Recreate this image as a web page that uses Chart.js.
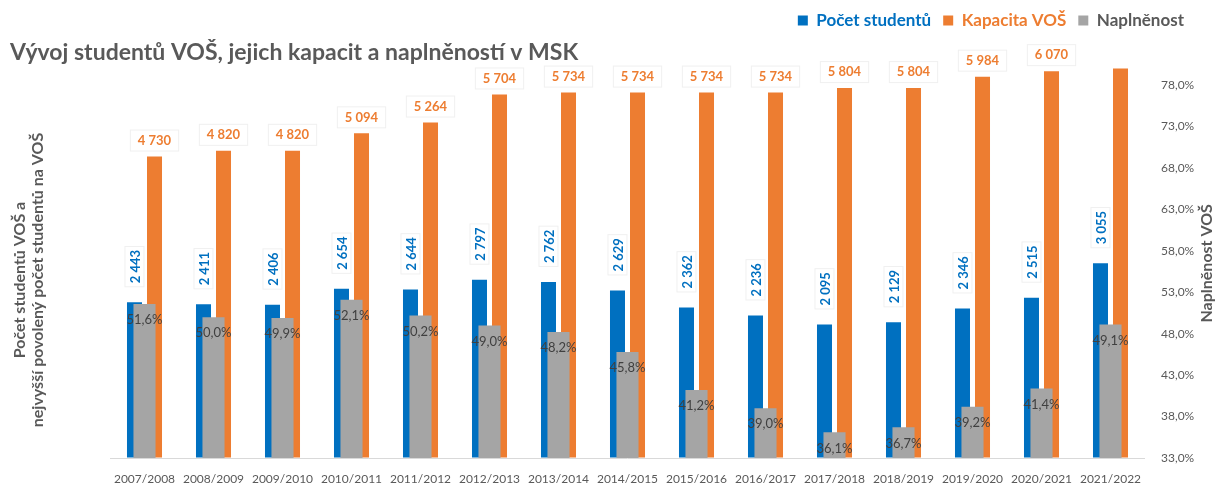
<!DOCTYPE html>
<html>
<head>
<meta charset="utf-8">
<script src="https://cdn.jsdelivr.net/npm/chart.js@4.4.1/dist/chart.umd.min.js"></script>
<style>
  html, body { margin: 0; padding: 0; background: #fff; }
  #wrap { width: 1218px; height: 484px; }
</style>
</head>
<body>
<div id="wrap"><canvas id="chart"></canvas></div>
<script>
// ---- data ----
const years = ['2007/2008', '2008/2009', '2009/2010', '2010/2011', '2011/2012', '2012/2013', '2013/2014',
  '2014/2015', '2015/2016', '2016/2017', '2017/2018', '2018/2019', '2019/2020', '2020/2021', '2021/2022'];
const students = [2443, 2411, 2406, 2654, 2644, 2797, 2762, 2629, 2362, 2236, 2095, 2129, 2346, 2515, 3055];
const capacity = [4730, 4820, 4820, 5094, 5264, 5704, 5734, 5734, 5734, 5734, 5804, 5804, 5984, 6070, 6222];
const fillRate = [51.6, 50.0, 49.9, 52.1, 50.2, 49.0, 48.2, 45.8, 41.2, 39.0, 36.1, 36.7, 39.2, 41.4, 49.1];
const rightTicks = [33, 38, 43, 48, 53, 58, 63, 68, 73, 78];
const leftTitle = ['Počet studentů VOŠ a', 'nejvyšší povolený počet studentů na VOŠ'];
const rightTitle = 'Naplněnost VOŠ';

const blue = '#0070C0', orange = '#ED7D31', gray = '#A5A5A5';
const txt = '#595959';
const FONT = 'Lato, "Open Sans", sans-serif';

const fmtNum = v => String(v).replace(/\B(?=(\d{3})+(?!\d))/g, ' ');
const fmtPct = v => v.toFixed(1).replace('.', ',') + '%';

// white label box with a faint border
function labelBox(ctx, x, y, w, h) {
  ctx.fillStyle = '#fff';
  ctx.fillRect(x, y, w, h);
  ctx.strokeStyle = '#f0f0f0';
  ctx.lineWidth = 1;
  ctx.strokeRect(x + 0.5, y + 0.5, w - 1, h - 1);
}

function vText(ctx, s, x, y) {
  ctx.save();
  ctx.translate(x, y);
  ctx.rotate(-Math.PI / 2);
  ctx.textAlign = 'center';
  ctx.textBaseline = 'middle';
  ctx.fillText(s, 0, 0);
  ctx.restore();
}

// ── DATA LABELS + AXIS TITLES ───────────────────────────────
const barLabels = {
  id: 'barLabels',
  afterDatasetsDraw(chart) {
    const ctx = chart.ctx;
    const yMax = chart.scales.y.max;

    // students: rotated, above the blue bar
    chart.getDatasetMeta(0).data.forEach((bar, i) => {
      const s = fmtNum(students[i]);
      ctx.save();
      ctx.font = 'bold 13px ' + FONT;
      const w = ctx.measureText(s).width;
      ctx.translate(bar.x, bar.y - 19 - w / 2);
      ctx.rotate(-Math.PI / 2);
      labelBox(ctx, -w / 2 - 4, -10, w + 8, 20);
      ctx.fillStyle = blue;
      ctx.textAlign = 'center';
      ctx.textBaseline = 'middle';
      ctx.fillText(s, 0, 1);
      ctx.restore();
    });

    // capacity: above the orange bar (hidden when clipped)
    chart.getDatasetMeta(1).data.forEach((bar, i) => {
      if (capacity[i] > yMax) return;
      const s = fmtNum(capacity[i]);
      ctx.save();
      ctx.font = 'bold 13px ' + FONT;
      const w = ctx.measureText(s).width;
      labelBox(ctx, bar.x - w / 2 - 8, bar.y - 27, w + 16, 22);
      ctx.fillStyle = orange;
      ctx.textAlign = 'center';
      ctx.textBaseline = 'middle';
      ctx.fillText(s, bar.x, bar.y - 16);
      ctx.restore();
    });

    // fill rate: inside end of the gray bar
    chart.getDatasetMeta(2).data.forEach((bar, i) => {
      ctx.save();
      ctx.font = '13px ' + FONT;
      ctx.fillStyle = '#404040';
      ctx.textAlign = 'center';
      ctx.textBaseline = 'middle';
      ctx.fillText(fmtPct(fillRate[i]), bar.x, bar.y + 16);
      ctx.restore();
    });

    // axis titles, reading bottom to top
    const a = chart.chartArea;
    ctx.save();
    ctx.font = 'bold 16px ' + FONT;
    ctx.fillStyle = txt;
    vText(ctx, leftTitle[0], 20, 280);
    vText(ctx, leftTitle[1], 38, 280);
    vText(ctx, rightTitle, 1207, (a.top + a.bottom) / 2);
    ctx.restore();
  }
};

const colorsByIndex = [blue, orange, txt];

new Chart(document.getElementById('chart'), {
  type: 'bar',
  data: {
    labels: years,
    datasets: [
      { label: 'Počet studentů', data: students, backgroundColor: blue, yAxisID: 'y',
        order: 1, categoryPercentage: 0.58, barPercentage: 0.75 },
      { label: 'Kapacita VOŠ', data: capacity, backgroundColor: orange, yAxisID: 'y',
        order: 1, categoryPercentage: 0.58, barPercentage: 0.75 },
      { label: 'Naplněnost', data: fillRate, backgroundColor: gray, yAxisID: 'y2',
        order: 0, grouped: false, categoryPercentage: 1, barPercentage: 0.32 }
    ]
  },
  options: {
    responsive: true,
    maintainAspectRatio: false,
    animation: false,
    layout: { padding: { left: 10, right: 22, top: 0, bottom: 0 } },
    plugins: {
      tooltip: { enabled: false },
      legend: {
        position: 'top',
        align: 'end',
        weight: 3000,
        labels: {
          boxWidth: 10, boxHeight: 10,
          padding: 12,
          font: { family: FONT, size: 17, weight: 'bold' },
          sort: (a, b) => a.datasetIndex - b.datasetIndex,
          generateLabels(chart) {
            const items = Chart.defaults.plugins.legend.labels.generateLabels(chart);
            items.forEach(it => { it.fontColor = colorsByIndex[it.datasetIndex]; it.lineWidth = 0; });
            return items;
          }
        }
      },
      title: {
        display: true,
        align: 'start',
        text: 'Vývoj studentů VOŠ, jejich kapacit a naplněností v MSK',
        color: txt,
        font: { family: FONT, size: 23, weight: 'bold' },
        padding: { top: 0, bottom: 2 }
      }
    },
    scales: {
      x: {
        grid: { display: false },
        border: { display: false },
        ticks: { color: txt, font: { family: FONT, size: 12 }, maxRotation: 0, autoSkip: false, padding: 6 },
        afterFit: s => { s.height = 26; }
      },
      y: {
        position: 'left',
        min: 0, max: 6110,
        border: { display: false },
        grid: { color: '#d9d9d9', drawTicks: false },
        ticks: {
          stepSize: 1000, padding: 10, color: txt,
          font: { family: FONT, size: 12 },
          callback: v => v === 0 ? '' : fmtNum(v)
        },
        afterBuildTicks: s => { s.ticks = s.ticks.filter(t => t.value % 1000 === 0); },
        afterFit: s => { s.width = 100; }
      },
      y2: {
        position: 'right',
        min: 33, max: 80,
        border: { display: false },
        grid: { display: false },
        ticks: {
          padding: 8, color: txt,
          font: { family: FONT, size: 12 },
          callback: v => fmtPct(v)
        },
        afterBuildTicks: s => { s.ticks = rightTicks.map(v => ({ value: v })); },
        afterFit: s => { s.width = 51; }
      }
    }
  },
  plugins: [barLabels]
});
</script>
</body>
</html>
